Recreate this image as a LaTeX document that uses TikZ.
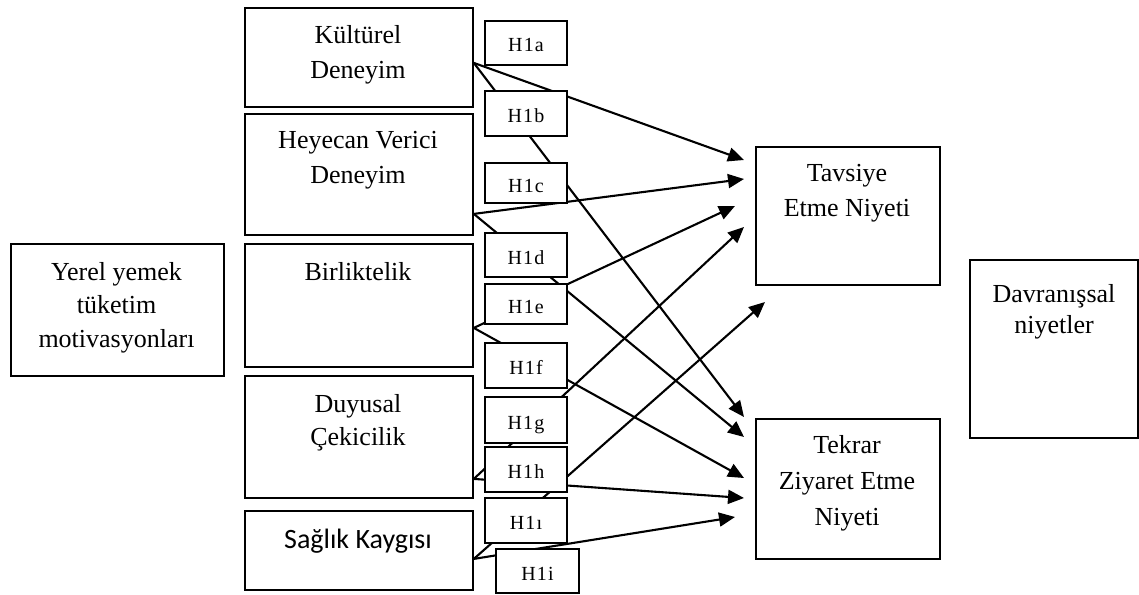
\documentclass[tikz,border=0pt]{standalone}
\usepackage{fontspec}
\setmainfont{Liberation Serif}
\newfontfamily\calib{Carlito}
\newfontfamily\hfont[LetterSpace=6]{Liberation Serif}
\usetikzlibrary{arrows.meta}
\begin{document}
\begin{tikzpicture}[x=1pt,y=-1pt,
  box/.style={draw, line width=1.8pt, fill=white, inner sep=0pt, anchor=north west},
  hbox/.style={draw, line width=1.8pt, fill=white, inner sep=0pt, minimum width=82pt,
    text height=18pt, text depth=0pt, font=\hfont\fontsize{20}{24}\selectfont},
  txt/.style={align=center, anchor=base, inner sep=0pt},
  arr/.style={line width=2.1pt, -{Triangle[length=16pt,width=14pt]}}]
\useasboundingbox (0,0) rectangle (1139,594);
% left column boxes
\node[box, minimum width=213pt, minimum height=132pt] (ym) at (10,243) {};
\node[box, minimum width=228pt, minimum height=99pt] (kd) at (244,7) {};
\node[box, minimum width=228pt, minimum height=121pt] (hv) at (244,113) {};
\node[box, minimum width=228pt, minimum height=123pt] (bi) at (244,243) {};
\node[box, minimum width=228pt, minimum height=122pt] (dc) at (244,375) {};
\node[box, minimum width=228pt, minimum height=79pt] (sk) at (244,510) {};
% right boxes
\node[box, minimum width=184pt, minimum height=138pt] (tn) at (755,146) {};
\node[box, minimum width=184pt, minimum height=140pt] (tz) at (755,418) {};
\node[box, minimum width=168pt, minimum height=178pt] (dn) at (969,259) {};
% texts (anchor base = baseline of last line)
\node[txt, font=\fontsize{26}{33.5}\selectfont] (ymt) at (116.5,347) {Yerel yemek\\tüketim\\motivasyonları};
\node[txt, font=\fontsize{26}{35}\selectfont] (kdt) at (358,78) {Kültürel\\Deneyim};
\node[txt, font=\fontsize{26}{35}\selectfont] (hvt) at (358,183) {Heyecan Verici\\Deneyim};
\node[txt, font=\fontsize{26}{35}\selectfont] (bit) at (358,280) {Birliktelik};
\node[txt, font=\fontsize{26}{33}\selectfont] (dct) at (358,445) {Duyusal\\Çekicilik};
\node[txt, font=\calib\fontsize{28}{34}\selectfont] (skt) at (358,548) {Sağlık Kaygısı};
\node[txt, font=\fontsize{26}{35}\selectfont] (tnt) at (847,216.5) {Tavsiye\\Etme Niyeti};
\node[txt, font=\fontsize{26}{36}\selectfont] (tzt) at (847,525) {Tekrar\\Ziyaret Etme\\Niyeti};
\node[txt, font=\fontsize{26}{30.5}\selectfont] (dnt) at (1054,333) {Davranışsal\\niyetler};
% connector start points and free tips
\coordinate (kdo) at ([yshift=-5.5pt]kd.east);
\coordinate (hvo) at ([yshift=-39.5pt]hv.east);
\coordinate (bio) at ([yshift=-22.5pt]bi.east);
\coordinate (dco) at ([yshift=-42pt]dc.east);
\coordinate (sko) at ([yshift=-8.5pt]sk.east);
\coordinate (a1) at (744,160);
\coordinate (a2) at (744,179);
\coordinate (a3) at (735,206);
\coordinate (a4) at (744,227);
\coordinate (a5) at (765,302);
\coordinate (b1) at (744,417);
\coordinate (b2) at (744,437);
\coordinate (b3) at (744,478);
\coordinate (b4) at (744,498);
\coordinate (b5) at (735,517);
% arrows
\draw[arr] (kdo) -- (a1);
\draw[arr] (kdo) -- (b1);
\draw[arr] (hvo) -- (a2);
\draw[arr] (hvo) -- (b2);
\draw[arr] (bio) -- (a3);
\draw[arr] (bio) -- (b3);
\draw[arr] (dco) -- (a4);
\draw[arr] (dco) -- (b4);
\draw[arr] (sko) -- (a5);
\draw[arr] (sko) -- (b5);
% hypothesis boxes
\node[hbox, minimum height=44pt] (h1a) at (526,43) {H1a};
\node[hbox, minimum height=45pt] (h1b) at (526,113.5) {H1b};
\node[hbox, minimum height=40pt] (h1c) at (526,183) {H1c};
\node[hbox, minimum height=44pt] (h1d) at (526,255) {H1d};
\node[hbox, minimum height=40pt] (h1e) at (526,304) {H1e};
\node[hbox, minimum height=45pt] (h1f) at (526,365.5) {H1f};
\node[hbox, minimum height=46pt] (h1g) at (526,420) {H1g};
\node[hbox, minimum height=45pt] (h1h) at (526,469.5) {H1h};
\node[hbox, minimum height=45pt] (h1ii) at (526,520.5) {H1ı};
\node[hbox, minimum width=83pt, minimum height=44pt] (h1i) at (537.5,571) {H1i};
\end{tikzpicture}
\end{document}
